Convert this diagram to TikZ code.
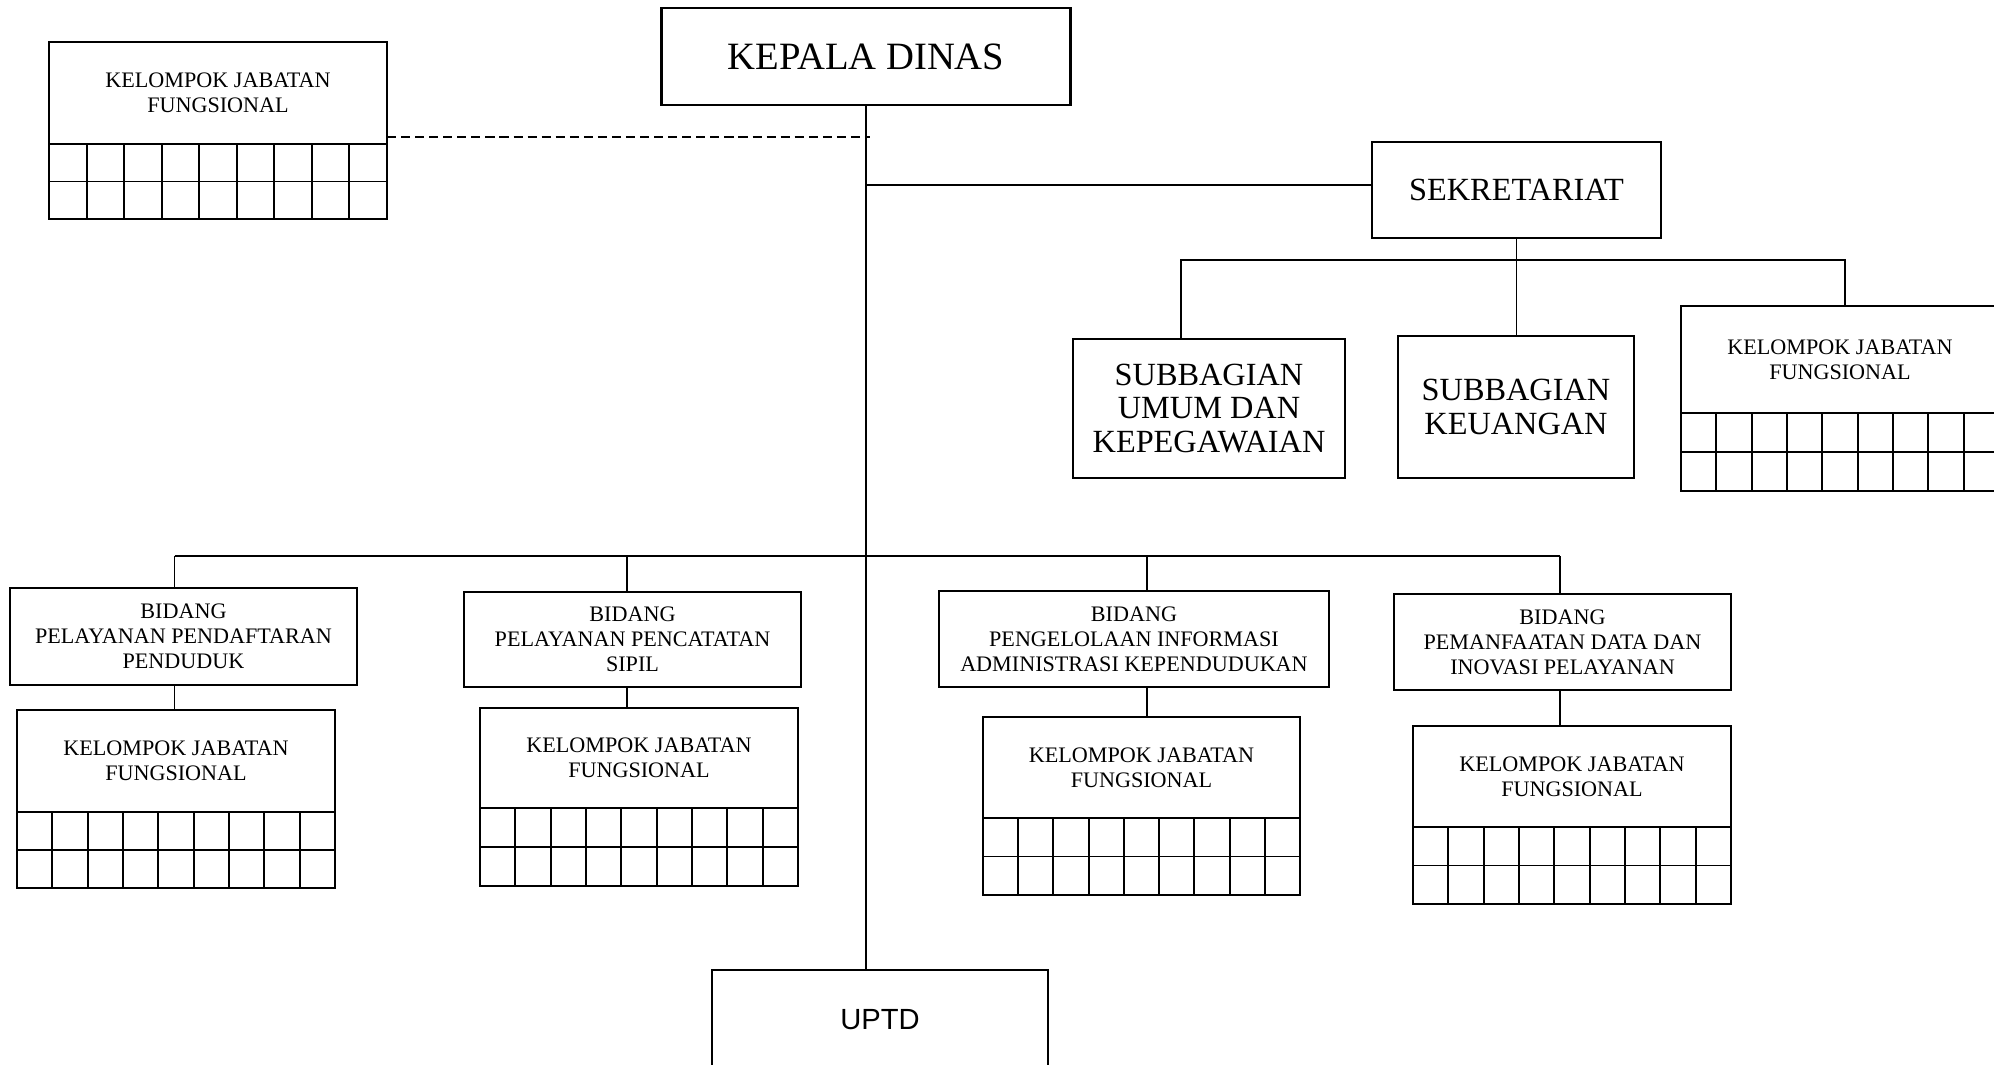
\documentclass[tikz,border=0pt]{standalone}
\usepackage{fontspec}
\setmainfont{Liberation Serif}
\newfontfamily\uptdfont{Liberation Sans}
\usetikzlibrary{positioning}

% two rows of nine cells under a header node: #1 node, #2 width, #3 row height
\newcommand{\jfrows}[3]{%
  \begin{scope}[shift={(#1.south west)}]
  \draw[cellline] (0,0) rectangle (#2,-2*#3) (0,-#3) -- (#2,-#3);
  \foreach \k in {1,...,8} \draw[cellline] (\k*#2/9,0) -- (\k*#2/9,-2*#3);
  \end{scope}}

\begin{document}
\begin{tikzpicture}[inner sep=0pt,outer sep=0pt,line width=0.55pt,
orgblock/.style={draw,rectangle,line width=0.6pt,align=center},
bigblock/.style={orgblock,font=\fontsize{9.2}{9.6}\selectfont},
smallblock/.style={orgblock,font=\fontsize{6.3}{7.1}\selectfont},
cellline/.style={line width=0.55pt}]
\useasboundingbox (0,0) rectangle (19.94,-10.65);

\draw (8.66,-0.565) node[orgblock,minimum width=4.09cm,minimum height=0.97cm,font=\fontsize{11}{13}\selectfont] (kadis) {KEPALA DINAS};
\draw (8.80,-10.20) node[orgblock,minimum width=3.36cm,minimum height=1cm,font=\uptdfont\fontsize{8.3}{10}\selectfont] (uptd) {UPTD};

% kelompok jabatan fungsional (kiri atas)
\draw (2.18,-0.93) node[smallblock,minimum width=3.38cm,minimum height=1.02cm] (jf0) {KELOMPOK JABATAN\\FUNGSIONAL};
\jfrows{jf0}{3.38}{0.375}

% sekretariat
\draw (15.165,-1.90) node[bigblock,minimum width=2.89cm,minimum height=0.96cm] (sekr) {SEKRETARIAT};
\draw (12.09,-4.085) node[bigblock,minimum width=2.72cm,minimum height=1.39cm] (sbu) {SUBBAGIAN\\UMUM DAN\\KEPEGAWAIAN};
\draw (15.16,-4.07) node[bigblock,minimum width=2.36cm,minimum height=1.42cm] (sbk) {SUBBAGIAN\\KEUANGAN};
\draw (18.40,-3.595) node[smallblock,minimum width=3.18cm,minimum height=1.07cm] (jfs) {KELOMPOK JABATAN\\FUNGSIONAL};
\jfrows{jfs}{3.18}{0.39}

% bidang
\draw (1.835,-6.365) node[smallblock,minimum width=3.47cm,minimum height=0.97cm] (bid1) {BIDANG\\PELAYANAN PENDAFTARAN\\PENDUDUK};
\draw (6.325,-6.395) node[smallblock,minimum width=3.37cm,minimum height=0.95cm] (bid2) {BIDANG\\PELAYANAN PENCATATAN\\SIPIL};
\draw (11.34,-6.39) node[smallblock,minimum width=3.90cm,minimum height=0.96cm] (bid3) {BIDANG\\PENGELOLAAN INFORMASI\\ADMINISTRASI KEPENDUDUKAN};
\draw (15.625,-6.42) node[smallblock,minimum width=3.37cm,minimum height=0.96cm] (bid4) {BIDANG\\PEMANFAATAN DATA DAN\\INOVASI PELAYANAN};

\draw (1.76,-7.61) node[smallblock,minimum width=3.18cm,minimum height=1.02cm] (jf1) {KELOMPOK JABATAN\\FUNGSIONAL};
\draw (6.39,-7.58) node[smallblock,minimum width=3.18cm,minimum height=1cm] (jf2) {KELOMPOK JABATAN\\FUNGSIONAL};
\draw (11.415,-7.675) node[smallblock,minimum width=3.17cm,minimum height=1.01cm] (jf3) {KELOMPOK JABATAN\\FUNGSIONAL};
\draw (15.72,-7.765) node[smallblock,minimum width=3.18cm,minimum height=1.01cm] (jf4) {KELOMPOK JABATAN\\FUNGSIONAL};
\jfrows{jf1}{3.18}{0.38}
\jfrows{jf2}{3.18}{0.39}
\jfrows{jf3}{3.17}{0.385}
\jfrows{jf4}{3.18}{0.385}

% garis
\draw (kadis.south) -- (kadis.south |- uptd.north);
\draw[dash pattern=on 2.6pt off 1.4pt] ([yshift=0.07cm]jf0.south east) -- ++(4.83,0);
\path ([yshift=0.05cm]sekr.west) coordinate (sl);
\draw (sl) -- (sl -| kadis.south);
\coordinate (sbar) at ([yshift=-0.22cm]sekr.south);
\draw ([xshift=-0.28cm]sbu.north) |- (sbar) -| ([xshift=0.05cm]jfs.north);
\draw (sekr.south) -- (sekr.south |- sbk.north);

\coordinate (col1) at (1.745,-5.56);
\coordinate (col2) at (6.27,-5.56);
\coordinate (col3) at (11.47,-5.56);
\coordinate (col4) at (15.60,-5.56);
\draw (col1) -- (col4);
\foreach \c/\b/\j in {col1/bid1/jf1,col2/bid2/jf2,col3/bid3/jf3,col4/bid4/jf4}
  \draw (\c) -- (\c |- \b.north) (\c |- \b.south) -- (\c |- \j.north);
\end{tikzpicture}
\end{document}
